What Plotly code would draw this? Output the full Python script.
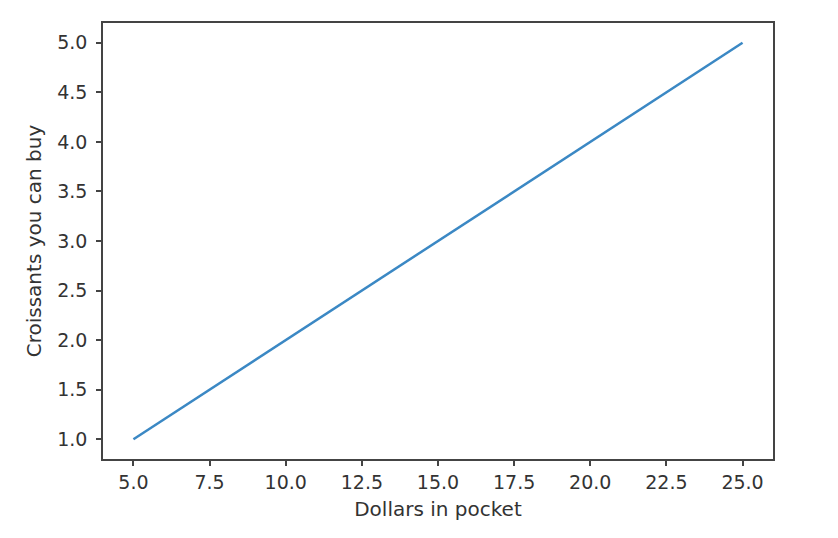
import plotly.graph_objects as go

# dollars in pocket vs croissants
dollars = [5, 10, 15, 20, 25]
croissants = [1, 2, 3, 4, 5]

xticks = [5.0, 7.5, 10.0, 12.5, 15.0, 17.5, 20.0, 22.5, 25.0]
yticks = [1.0, 1.5, 2.0, 2.5, 3.0, 3.5, 4.0, 4.5, 5.0]

fig = go.Figure(go.Scatter(
    x=dollars, y=croissants, mode='lines',
    line=dict(color='#3b88c4', width=2.5),
))

axis_style = dict(
    showgrid=False, zeroline=False,
    showline=True, linecolor='#444', linewidth=1.5, mirror=True,
    ticks='outside', ticklen=5, tickwidth=1.5, tickcolor='#444',
    tickfont=dict(family='DejaVu Sans', size=19, color='#333'),
    title_font=dict(family='DejaVu Sans', size=20, color='#333'),
)

# page body adds an 8px offset, so margins are shifted to match
fig.update_layout(
    width=838, height=538,
    margin=dict(l=95, r=73, t=15, b=87),
    paper_bgcolor='white', plot_bgcolor='white',
    showlegend=False,
    xaxis=dict(range=[4, 26], tickvals=xticks,
               ticktext=['%.1f' % v for v in xticks],
               title=dict(text='Dollars in pocket', standoff=10), **axis_style),
    yaxis=dict(range=[0.8, 5.2], tickvals=yticks,
               ticktext=['%.1f' % v for v in yticks],
               ticklabelstandoff=5,
               title=dict(text='Croissants you can buy', standoff=10), **axis_style),
)

fig.write_html("out.html")
